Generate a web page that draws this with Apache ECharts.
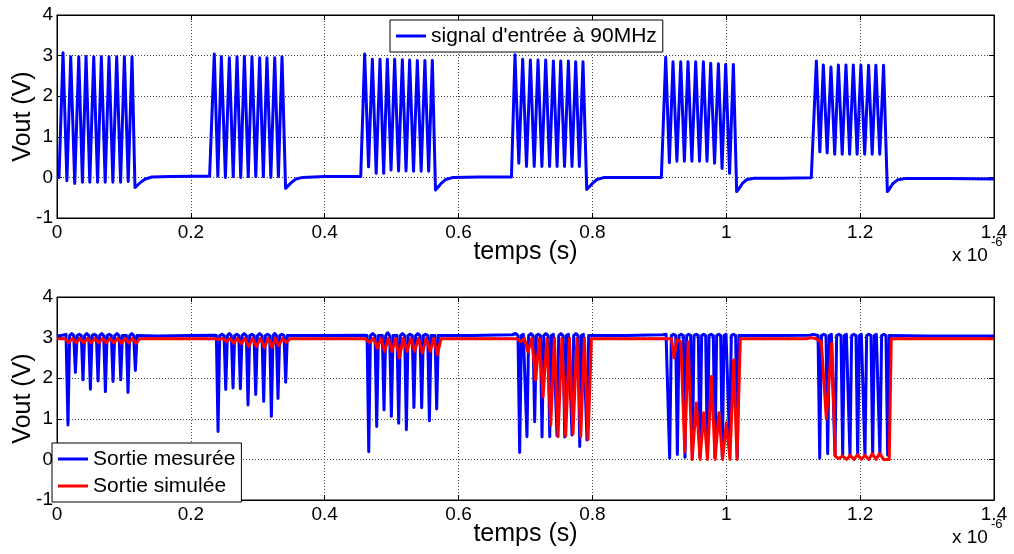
<!DOCTYPE html>
<html><head><meta charset="utf-8">
<script src="https://cdn.jsdelivr.net/npm/echarts@6/dist/echarts.min.js"></script>
<style>html,body{margin:0;padding:0;background:#fff}#c{width:1014px;height:554px}</style>
</head><body><div id="c"></div>
<script>
// ---------- tick labels ----------
const xTicks = [0, 0.2, 0.4, 0.6, 0.8, 1, 1.2, 1.4];
const yTicks = [-1, 0, 1, 2, 3, 4];
const seriesNames = ["signal d'entrée à 90MHz", 'Sortie mesurée', 'Sortie simulée'];

// ---------- top plot: input signal (time in µs, V) ----------
const signalEntree = [
 [0,0.0],[0.003,0.0],[0.009,3.07],[0.0148,-0.08],[0.0205,2.97],[0.0265,-0.15],[0.0325,2.97],[0.038,-0.12],[0.0434,2.98],[0.049,-0.12],
 [0.0549,2.97],[0.0606,-0.12],[0.0663,2.97],[0.072,-0.12],[0.0777,2.97],[0.0835,-0.12],[0.0892,2.97],[0.095,-0.12],[0.1007,2.97],[0.1064,-0.1],
 [0.1121,2.97],[0.1165,-0.25],[0.119,-0.22],[0.125,-0.12],[0.132,-0.04],[0.142,0.01],[0.17,0.02],[0.2,0.03],[0.228,0.03],
 [0.235,3.04],[0.2403,0.03],[0.2456,2.97],[0.2516,0.0],[0.2575,2.95],[0.2633,0.02],[0.269,2.97],[0.2745,0.0],[0.28,2.98],[0.2857,0.02],
 [0.2913,2.97],[0.297,0.02],[0.3028,2.95],[0.3083,0.02],[0.3137,2.95],[0.3195,0.0],[0.3253,2.95],[0.3308,0.02],[0.3362,2.97],
 [0.3415,-0.27],[0.344,-0.24],[0.35,-0.13],[0.357,-0.04],[0.367,0.0],[0.4,0.02],[0.4538,0.02],
 [0.4597,3.04],[0.4655,0.26],[0.4712,2.91],[0.4769,0.1],[0.4826,2.91],[0.4881,0.1],[0.4936,2.91],[0.4991,0.18],[0.5045,2.91],[0.5103,0.16],
 [0.516,2.9],[0.5215,0.16],[0.5269,2.89],[0.5327,0.15],[0.5384,2.88],[0.5441,0.15],[0.5497,2.88],[0.5553,0.15],[0.5608,2.88],
 [0.5655,-0.31],[0.568,-0.28],[0.574,-0.15],[0.581,-0.05],[0.592,0.0],[0.63,0.01],[0.679,0.01],
 [0.6843,3.02],[0.69,0.35],[0.6958,2.91],[0.7015,0.27],[0.7073,2.89],[0.713,0.27],[0.7187,2.89],[0.7245,0.27],[0.7302,2.89],[0.736,0.27],
 [0.7417,2.87],[0.7472,0.27],[0.7526,2.87],[0.7583,0.27],[0.7641,2.87],[0.7695,0.27],[0.775,2.85],[0.7805,0.27],[0.7859,2.85],
 [0.7915,-0.3],[0.794,-0.27],[0.8,-0.15],[0.807,-0.05],[0.818,0.0],[0.86,0.0],[0.903,0.0],
 [0.9095,2.96],[0.915,0.36],[0.9204,2.85],[0.9262,0.4],[0.9319,2.85],[0.9374,0.4],[0.9428,2.85],[0.9486,0.4],[0.9543,2.85],[0.96,0.4],
 [0.9658,2.85],[0.9712,0.4],[0.9767,2.81],[0.9825,0.35],[0.9882,2.8],[0.9937,0.22],[0.9991,2.78],[1.0049,0.1],[1.0106,2.78],
 [1.0155,-0.35],[1.018,-0.3],[1.024,-0.15],[1.031,-0.05],[1.042,-0.02],[1.08,-0.02],[1.127,-0.01],
 [1.1346,2.87],[1.1398,0.63],[1.145,2.77],[1.1507,0.6],[1.1564,2.72],[1.162,0.57],[1.1675,2.77],[1.1732,0.57],[1.1788,2.77],[1.1843,0.57],
 [1.1898,2.77],[1.1955,0.57],[1.2011,2.76],[1.2068,0.57],[1.2126,2.76],[1.218,0.57],[1.2235,2.76],[1.2293,0.57],[1.235,2.76],
 [1.2407,-0.35],[1.243,-0.3],[1.249,-0.15],[1.256,-0.06],[1.267,-0.03],[1.33,-0.03],[1.4,-0.04]
];

// ---------- bottom plot: measured output ----------
const sortieMesuree = [
 [0,3.04],[0.008,3.06],[0.0135,3.08],
 [0.0139,3.05],[0.0164,0.85],[0.0189,3.05],[0.022,3.1],[0.025,3.05],[0.0275,2.14],[0.03,3.05],[0.0332,3.08],
 [0.0363,3.05],[0.0388,1.96],[0.0413,3.05],[0.0444,3.1],[0.0474,3.05],[0.0499,1.73],[0.0524,3.05],[0.0556,3.08],
 [0.0588,3.05],[0.0613,1.93],[0.0638,3.05],[0.0668,3.1],[0.0698,3.05],[0.0723,1.67],[0.0748,3.05],[0.078,3.08],
 [0.0812,3.05],[0.0837,1.92],[0.0862,3.05],[0.0895,3.1],[0.0927,3.05],[0.0952,1.96],[0.0977,3.05],[0.1006,3.08],
 [0.1036,3.05],[0.1061,1.65],[0.1086,3.05],[0.1116,3.1],[0.1146,3.05],[0.1171,2.19],[0.1196,3.05],
 [0.15,3.04],[0.2,3.05],[0.235,3.06],
 [0.2381,3.05],[0.2406,0.69],[0.2431,3.05],[0.2463,3.08],[0.2496,3.05],[0.2521,1.72],[0.2546,3.05],[0.2575,3.1],
 [0.2605,3.05],[0.263,1.76],[0.2655,3.05],[0.2685,3.08],[0.2715,3.05],[0.274,1.74],[0.2765,3.05],[0.2797,3.1],
 [0.2829,3.05],[0.2854,1.34],[0.2879,3.05],[0.2911,3.08],[0.2944,3.05],[0.2969,1.6],[0.2994,3.05],[0.3028,3.1],
 [0.3063,3.05],[0.3088,1.43],[0.3113,3.05],[0.3145,3.08],[0.3178,3.05],[0.3203,1.06],[0.3228,3.05],[0.3252,3.1],
 [0.3277,3.05],[0.3302,1.5],[0.3327,3.05],[0.336,3.08],[0.3392,3.05],[0.3417,1.9],[0.3442,3.05],
 [0.4,3.05],[0.46,3.06],
 [0.4633,3.05],[0.4658,0.19],[0.4683,3.05],[0.4717,3.1],[0.4752,3.05],[0.4777,0.81],[0.4802,3.05],[0.4831,3.08],
 [0.4861,3.05],[0.4886,1.22],[0.4911,3.05],[0.4941,3.12],[0.4971,3.05],[0.4996,1.06],[0.5021,3.05],[0.505,3.08],
 [0.508,3.05],[0.5105,0.89],[0.513,3.05],[0.5162,3.1],[0.5195,3.05],[0.522,0.73],[0.5245,3.05],[0.5276,3.08],
 [0.5308,3.05],[0.5333,1.28],[0.5358,3.05],[0.5391,3.1],[0.5424,3.05],[0.5449,1.27],[0.5474,3.05],[0.5506,3.08],
 [0.5539,3.05],[0.5564,0.95],[0.5589,3.05],[0.5618,3.08],[0.5648,3.05],[0.5673,1.24],[0.5698,3.05],
 [0.62,3.05],[0.68,3.07],[0.6855,3.1],
 [0.6888,3.05],[0.6913,0.17],[0.6938,3.05],[0.6968,3.08],[0.6997,3.05],[0.7022,0.56],[0.7047,3.05],[0.708,3.1],
 [0.7112,3.05],[0.7137,0.93],[0.7162,3.05],[0.7192,3.08],[0.7222,3.05],[0.7247,0.55],[0.7272,3.05],[0.7305,3.1],
 [0.7337,3.05],[0.7362,0.56],[0.7387,3.05],[0.7417,3.08],[0.7446,3.05],[0.7471,0.58],[0.7496,3.05],[0.7529,3.1],
 [0.7561,3.05],[0.7586,0.55],[0.7611,3.05],[0.7641,3.08],[0.767,3.05],[0.7695,0.6],[0.772,3.05],[0.7753,3.1],
 [0.7785,3.05],[0.781,0.32],[0.7835,3.05],[0.7865,3.08],[0.7894,3.05],[0.7919,0.48],[0.7944,3.05],
 [0.85,3.05],[0.905,3.07],[0.91,3.08],
 [0.9129,3.05],[0.9154,0.03],[0.9179,3.05],[0.9212,3.08],[0.9244,3.05],[0.9269,0.12],[0.9294,3.05],[0.9326,3.08],
 [0.9358,3.05],[0.9383,0.05],[0.9408,3.05],[0.9438,3.08],[0.9468,3.05],[0.9493,0.05],[0.9518,3.05],[0.955,3.08],
 [0.9582,3.05],[0.9607,0.05],[0.9632,3.05],[0.9662,3.08],[0.9692,3.05],[0.9717,0.05],[0.9742,3.05],[0.9774,3.08],
 [0.9806,3.05],[0.9831,0.05],[0.9856,3.05],[0.9886,3.08],[0.9916,3.05],[0.9941,0.05],[0.9966,3.05],[0.9996,3.08],
 [1.0025,3.05],[1.005,0.4],[1.0075,3.05],[1.0108,3.08],[1.014,3.05],[1.0165,0.05],[1.019,3.05],
 [1.08,3.05],[1.125,3.06],[1.13,3.08],
 [1.1371,3.05],[1.1396,0.03],[1.1421,3.05],[1.1456,3.08],[1.149,3.05],[1.1515,0.14],[1.154,3.05],[1.157,3.08],
 [1.1599,3.05],[1.1624,0.1],[1.1649,3.05],[1.1682,3.08],[1.1714,3.05],[1.1739,0.1],[1.1764,3.05],[1.1794,3.08],
 [1.1823,3.05],[1.1848,0.1],[1.1873,3.05],[1.1906,3.08],[1.1938,3.05],[1.1963,0.1],[1.1988,3.05],[1.2018,3.08],
 [1.2047,3.05],[1.2072,0.1],[1.2097,3.05],[1.213,3.08],[1.2162,3.05],[1.2187,0.1],[1.2212,3.05],[1.2242,3.08],
 [1.2271,3.05],[1.2296,0.1],[1.2321,3.05],[1.2354,3.08],[1.2386,3.05],[1.2411,0.1],[1.2436,3.05],
 [1.3,3.04],[1.4,3.04]
];

// ---------- bottom plot: simulated output ----------
const sortieSimulee = [
 [0,2.97],[0.012,2.97],
 [0.0175,2.88],[0.0232,2.98],[0.0286,2.87],[0.0343,2.98],[0.0399,2.87],[0.0455,2.98],[0.051,2.87],[0.0568,2.98],
 [0.0624,2.87],[0.068,2.98],[0.0734,2.87],[0.0792,2.98],[0.0848,2.87],[0.0906,2.98],[0.0963,2.86],[0.1018,2.98],
 [0.1072,2.87],[0.1128,2.98],[0.1182,2.86],[0.1235,2.97],
 [0.236,2.97],
 [0.2416,2.95],[0.2474,2.98],[0.2531,2.9],[0.2586,2.98],[0.264,2.86],[0.2695,2.98],[0.275,2.85],[0.2807,2.98],
 [0.2864,2.78],[0.2922,2.98],[0.2979,2.78],[0.3039,2.98],[0.3098,2.75],[0.3156,2.98],[0.3213,2.76],[0.3263,2.98],
 [0.3312,2.8],[0.337,2.98],[0.3427,2.88],[0.348,2.97],
 [0.461,2.97],
 [0.4668,2.88],[0.4728,2.98],[0.4787,2.74],[0.4842,2.98],[0.4896,2.66],[0.4951,2.98],[0.5006,2.66],[0.5061,2.98],
 [0.5115,2.5],[0.5173,2.98],[0.523,2.66],[0.5287,2.98],[0.5343,2.66],[0.5401,2.98],[0.5459,2.62],[0.5517,2.98],
 [0.5574,2.66],[0.5629,2.98],[0.5683,2.58],[0.5738,2.97],
 [0.687,2.97],
 [0.6928,2.9],[0.6983,2.98],[0.7037,2.65],[0.7095,2.98],[0.7152,1.96],[0.7207,2.98],[0.7262,1.54],[0.732,2.98],
 [0.7377,0.85],[0.7432,2.98],[0.7486,0.56],[0.7544,2.98],[0.7601,0.58],[0.7656,2.98],[0.771,0.63],[0.7768,2.98],
 [0.7825,0.56],[0.788,2.98],[0.7934,0.49],[0.7985,2.97],
 [0.905,2.97],[0.918,2.97],[0.922,2.5],[0.926,2.95],[0.932,2.9],[0.938,0.19],[0.943,2.9],[0.949,0.0],
 [0.9553,1.39],[0.9608,0.0],[0.9663,1.15],[0.972,0.0],[0.9777,2.04],[0.9833,0.0],[0.989,1.15],[0.9945,0.0],
 [1.0001,0.9],[1.0055,0.0],[1.011,2.45],[1.016,0.0],[1.021,2.97],
 [1.12,2.97],[1.127,3.0],[1.134,2.97],[1.142,2.9],[1.1495,1.0],[1.1575,2.86],[1.163,0.07],
 [1.168,0.02],[1.174,0.08],[1.18,0.0],[1.185,0.1],[1.191,0.0],[1.196,0.12],[1.202,0.0],[1.207,0.1],[1.213,0.0],
 [1.218,0.14],[1.224,0.0],[1.229,0.15],[1.235,0.0],[1.2435,0.0],[1.2465,2.97],[1.4,2.97]
];

// ---------- chart ----------
const FONT = 'Liberation Sans, Arial, sans-serif';
const chart = echarts.init(document.getElementById('c'), null, {renderer: 'canvas'});

function xAxes(gi) {
  return [{
    gridIndex: gi, type: 'value', position: 'bottom',
    min: xTicks[0], max: xTicks[xTicks.length - 1], interval: 0.2,
    axisLine: {show: true, onZero: false, lineStyle: {color: '#000', width: 1}},
    axisTick: {show: true, inside: true, length: 5, lineStyle: {color: '#000'}},
    axisLabel: {show: true, margin: 5, color: '#000', fontFamily: FONT, fontSize: 19,
      formatter: v => String(Math.round(v * 10) / 10)},
    splitLine: {show: true, lineStyle: {color: '#444', width: 1, type: [1, 2]}},
    name: 'temps (s)', nameLocation: 'middle', nameGap: 22, nameMoveOverlap: false,
    nameTextStyle: {color: '#000', fontFamily: FONT, fontSize: 25}
  }, {
    gridIndex: gi, type: 'value', position: 'top',
    min: xTicks[0], max: xTicks[xTicks.length - 1], interval: 0.2,
    axisLine: {show: true, onZero: false, lineStyle: {color: '#000', width: 1}},
    axisTick: {show: true, inside: true, length: 5, lineStyle: {color: '#000'}},
    axisLabel: {show: false}, splitLine: {show: false}
  }];
}
function yAxes(gi) {
  return [{
    gridIndex: gi, type: 'value', position: 'left',
    min: yTicks[0], max: yTicks[yTicks.length - 1], interval: 1,
    axisLine: {show: true, onZero: false, lineStyle: {color: '#000', width: 1}},
    axisTick: {show: true, inside: true, length: 5, lineStyle: {color: '#000'}},
    axisLabel: {show: true, margin: 4, color: '#000', fontFamily: FONT, fontSize: 19},
    splitLine: {show: true, lineStyle: {color: '#444', width: 1, type: [1, 2]}},
    name: 'Vout (V)', nameLocation: 'middle', nameGap: 21, nameRotate: 90, nameMoveOverlap: false,
    nameTextStyle: {color: '#000', fontFamily: FONT, fontSize: 25}
  }, {
    gridIndex: gi, type: 'value', position: 'right',
    min: yTicks[0], max: yTicks[yTicks.length - 1], interval: 1,
    axisLine: {show: true, onZero: false, lineStyle: {color: '#000', width: 1}},
    axisTick: {show: true, inside: true, length: 5, lineStyle: {color: '#000'}},
    axisLabel: {show: false}, splitLine: {show: false}
  }];
}

const legendCommon = {
  backgroundColor: '#fff', borderColor: '#000', borderWidth: 1, borderRadius: 0,
  itemWidth: 30, itemHeight: 3, itemGap: 5, icon: 'rect',
  textStyle: {color: '#000', fontFamily: FONT, fontSize: 21, lineHeight: 22, padding: [0, 0, 0, 0]}
};

const gridCommon = {left: 57, width: 937, height: 203, show: true, borderColor: '#000', borderWidth: 1,
  backgroundColor: '#fff', containLabel: false, outerBoundsMode: 'none'};

const option = {
  animation: false,
  backgroundColor: '#fff',
  grid: [
    Object.assign({}, gridCommon, {top: 15}),
    Object.assign({}, gridCommon, {top: 297})
  ],
  xAxis: [...xAxes(0), ...xAxes(1)],
  yAxis: [...yAxes(0), ...yAxes(1)],
  legend: [
    Object.assign({}, legendCommon, {left: 390, top: 20, padding: [5, 6, 5, 6], data: [seriesNames[0]]}),
    Object.assign({}, legendCommon, {left: 52, top: 443, orient: 'vertical', padding: [5, 6, 5, 6], data: [seriesNames[1], seriesNames[2]]})
  ],
  series: [
    {name: seriesNames[0], type: 'line', xAxisIndex: 0, yAxisIndex: 0, data: signalEntree,
     showSymbol: false, symbol: 'none', color: '#0000ff', lineStyle: {width: 3, color: '#0000ff', join: 'round'}},
    {name: seriesNames[1], type: 'line', xAxisIndex: 2, yAxisIndex: 2, data: sortieMesuree,
     showSymbol: false, symbol: 'none', color: '#0000ff', lineStyle: {width: 3, color: '#0000ff', join: 'round'}},
    {name: seriesNames[2], type: 'line', xAxisIndex: 2, yAxisIndex: 2, data: sortieSimulee,
     showSymbol: false, symbol: 'none', color: '#ff0000', lineStyle: {width: 3, color: '#ff0000', join: 'round'}}
  ],
  graphic: [
    {type: 'text', left: 952, top: 246, style: {text: 'x 10', font: '19px ' + FONT, fill: '#000'}},
    {type: 'text', left: 991, top: 236, style: {text: '-6', font: '13px ' + FONT, fill: '#000'}},
    {type: 'text', left: 952, top: 528, style: {text: 'x 10', font: '19px ' + FONT, fill: '#000'}},
    {type: 'text', left: 991, top: 518, style: {text: '-6', font: '13px ' + FONT, fill: '#000'}}
  ]
};
chart.setOption(option);
</script>
</body></html>
